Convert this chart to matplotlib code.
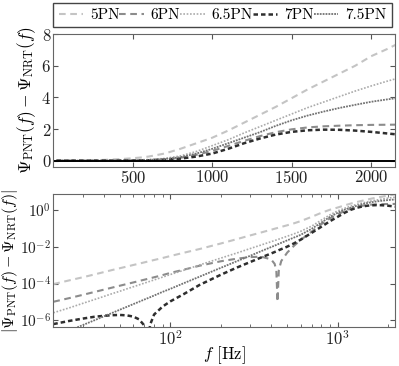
import numpy as np
import matplotlib
matplotlib.use("Agg")
import matplotlib.pyplot as plt

plt.rcParams['font.family'] = 'cmr10'
plt.rcParams['mathtext.fontset'] = 'cm'
plt.rcParams['axes.formatter.use_mathtext'] = True
plt.rcParams['font.size'] = 12

# frequencies [Hz]
freq = [20, 25, 30, 35, 40, 45, 50, 55, 60, 65, 70, 73, 76, 80, 90, 100, 120, 150,
        200, 250, 300, 350, 400, 420, 430, 437, 445, 460, 500, 550, 600, 700, 800,
        900, 1000, 1100, 1200, 1300, 1400, 1500, 1600, 1700, 1800, 1900, 2000, 2100, 2200]

# Psi_PNT - Psi_NRT
d5 = [9.3e-5, 1.5e-4, 2.2e-4, 3.1e-4, 4.2e-4, 5.5e-4, 6.9e-4, 8.5e-4, 1.03e-3, 1.22e-3,
      1.44e-3, 1.58e-3, 1.73e-3, 1.94e-3, 2.5e-3, 3.2e-3, 4.8e-3, 7.8e-3,
      0.0155, 0.027, 0.043, 0.063, 0.088, 0.1, 0.106, 0.11, 0.115, 0.126, 0.155, 0.2,
      0.26, 0.45, 0.75, 1.1, 1.45, 1.9, 2.4, 2.9, 3.4, 3.95, 4.5, 5.0, 5.5, 6.0, 6.6, 7.05, 7.55]
d6 = [-1.0e-5, -1.6e-5, -2.4e-5, -3.4e-5, -4.6e-5, -6.0e-5, -7.6e-5, -9.4e-5, -1.14e-4,
      -1.37e-4, -1.62e-4, -1.78e-4, -1.95e-4, -2.2e-4, -2.9e-4, -3.8e-4, -5.7e-4, -9.5e-4,
      -1.65e-3, -2.3e-3, -2.8e-3, -2.95e-3, -2.1e-3, -1.2e-3, -5e-4, -1e-5, 5.5e-4, 1.7e-3,
      5e-3, 1.2e-2, 2.4e-2, 0.07, 0.18, 0.37, 0.62, 0.93, 1.25, 1.55, 1.8, 1.98, 2.1, 2.17,
      2.21, 2.24, 2.26, 2.27, 2.28]
d65 = [2.5e-6, 4.7e-6, 8.2e-6, 1.3e-5, 1.95e-5, 2.8e-5, 3.8e-5, 5.1e-5, 6.6e-5, 8.4e-5,
       1.05e-4, 1.19e-4, 1.35e-4, 1.57e-4, 2.25e-4, 3.1e-4, 5.3e-4, 1.05e-3,
       2.45e-3, 4.7e-3, 8.2e-3, 1.3e-2, 1.95e-2, 2.25e-2, 2.42e-2, 2.55e-2, 2.7e-2, 3.0e-2,
       3.9e-2, 5.3e-2, 7.2e-2, 0.14, 0.3, 0.58, 0.95, 1.32, 1.75, 2.15, 2.55, 2.95, 3.35,
       3.7, 4.05, 4.4, 4.72, 5.02, 5.3]
d7 = [-6.0e-7, -9.0e-7, -1.2e-6, -1.5e-6, -1.7e-6, -1.85e-6, -1.9e-6, -1.8e-6, -1.55e-6,
      -1.1e-6, -5e-7, -8e-8, 6e-7, 2.0e-6, 5.5e-6, 1.05e-5, 2.6e-5, 8.5e-5,
      3e-4, 7.5e-4, 1.5e-3, 2.7e-3, 4.4e-3, 5.3e-3, 5.8e-3, 6.2e-3, 6.7e-3, 7.6e-3,
      0.0105, 0.016, 0.025, 0.06, 0.13, 0.26, 0.45, 0.75, 1.1, 1.4, 1.65, 1.82, 1.92,
      1.96, 1.95, 1.9, 1.82, 1.72, 1.62]
d75 = [1.14e-7, 2.65e-7, 5.3e-7, 9.5e-7, 1.58e-6, 2.47e-6, 3.7e-6, 5.3e-6, 7.4e-6, 1.0e-5,
       1.33e-5, 1.55e-5, 1.8e-5, 2.2e-5, 3.5e-5, 5.1e-5, 1.03e-4, 2.4e-4,
       7.2e-4, 1.67e-3, 3.3e-3, 6e-3, 9.9e-3, 0.0119, 0.013, 0.0139, 0.0149, 0.0169,
       0.0232, 0.0333, 0.046, 0.1, 0.22, 0.45, 0.75, 1.1, 1.45, 1.8, 2.2, 2.55, 2.85,
       3.1, 3.33, 3.53, 3.72, 3.87, 4.0]

labels = ['5PN', '6PN', '6.5PN', '7PN', '7.5PN']
series = [d5, d6, d65, d7, d75]
colors = ['#c4c4c4', '#8c8c8c', '#ababab', '#2e2e2e', '#727272']
styles = [(0, (3.2, 2.2)), (0, (3.2, 2.2)), (0, (1, 1)), (0, (1.8, 1.2)), (0, (1, 0.6))]
widths = [1.5, 1.5, 1.2, 1.8, 1.3]

f = np.array(freq)

fig = plt.figure(figsize=(3.99, 3.66), dpi=100)
ax1 = fig.add_axes([0.1336, 0.5437, 0.8564, 0.3633])
ax2 = fig.add_axes([0.1336, 0.1057, 0.8564, 0.3643])

for d, lab, c, ls, lw in zip(series, labels, colors, styles, widths):
    ax1.plot(f, d, color=c, ls=ls, lw=lw, label=lab)
    ax2.plot(f, np.abs(d), color=c, ls=ls, lw=lw)
ax1.axhline(0, color='k', lw=1.4)

ax1.set_xlim(0, 2150)
ax1.set_ylim(-0.4, 8)
ax1.set_xticks([500, 1000, 1500, 2000])
ax1.set_yticks([0, 2, 4, 6, 8])
ax1.set_ylabel(r'$\Psi_{\rm PNT}(f)-\Psi_{\rm NRT}(f)$', fontsize=12.5)
ax1.yaxis.set_label_coords(-0.046, 0.5)

ax2.set_xscale('log')
ax2.set_yscale('log')
ax2.set_xlim(20, 2200)
ax2.set_ylim(4e-7, 8)
ax2.set_yticks([1e0, 1e-2, 1e-4, 1e-6])
ax2.set_ylabel(r'$|\Psi_{\rm PNT}(f)-\Psi_{\rm NRT}(f)|$', fontsize=11.5)
ax2.yaxis.set_label_coords(-0.097, 0.5)
ax2.set_xlabel(r'$f$ [Hz]', fontsize=12, labelpad=-3)

for ax in (ax1, ax2):
    ax.tick_params(which='both', direction='in', top=True, right=True, pad=1.5,
                   colors='#555555', labelcolor='#222222')
    for s in ax.spines.values():
        s.set_color('#666666')
ax2.tick_params(axis='y', labelsize=11)

ax1.legend(loc='lower left', bbox_to_anchor=(0, 1.05, 0.99, 0.17), ncol=5,
           mode='expand', borderaxespad=0, fancybox=False, edgecolor='#444444',
           handlelength=1.6, handletextpad=0.45, columnspacing=0.1, fontsize=11,
           borderpad=0.35, framealpha=1)

fig.savefig('out.png', dpi=100)
